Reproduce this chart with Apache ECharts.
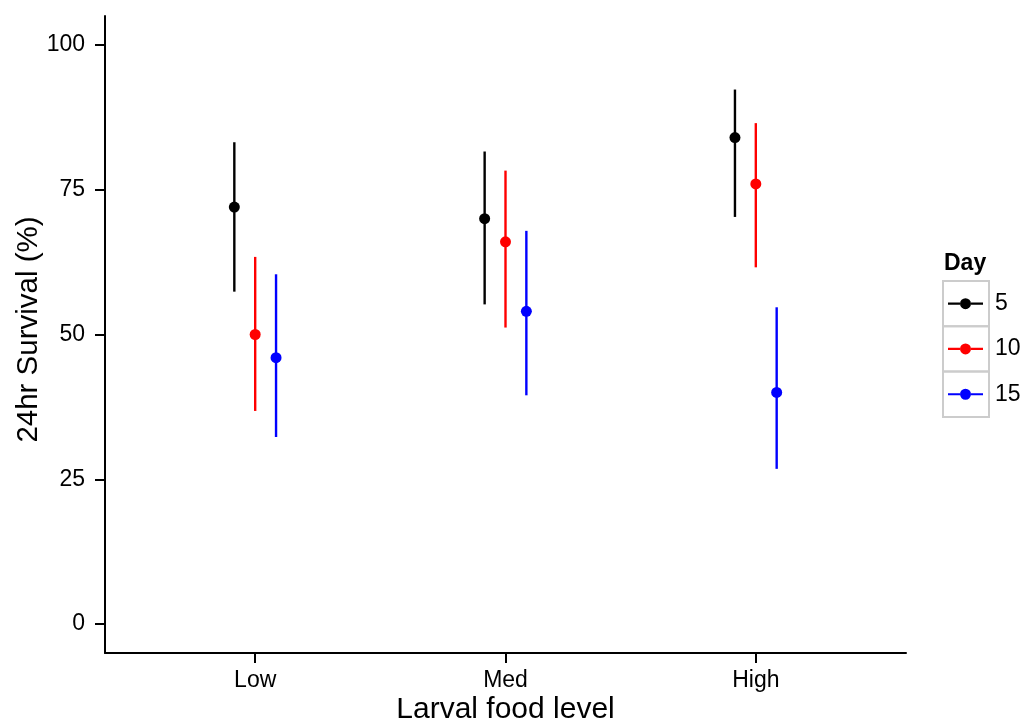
<!DOCTYPE html>
<html>
<head>
<meta charset="utf-8">
<script src="https://cdn.jsdelivr.net/npm/echarts@6/dist/echarts.min.js"></script>
<style>
  html, body { margin: 0; padding: 0; background: #ffffff; }
  #chart { width: 1023px; height: 720px; }
</style>
</head>
<body>
<div id="chart"></div>
<script>
// Larval food level categories and the Day groups
const categories = ['Low', 'Med', 'High'];
const days = ['5', '10', '15'];
const dayColors = ['#000000', '#ff0000', '#0000ff'];

// 24hr survival (%) with lower / upper interval limits, per day
const survival5 = [72, 70, 84];
const lower5 = [57.4, 55.2, 70.3];
const upper5 = [83.2, 81.6, 92.3];

const survival10 = [50, 66, 76];
const lower10 = [36.8, 51.2, 61.6];
const upper10 = [63.4, 78.3, 86.5];

const survival15 = [46, 54, 40];
const lower15 = [32.3, 39.5, 26.8];
const upper15 = [60.4, 67.9, 54.7];

const yTicks = [0, 25, 50, 75, 100];

const groups = [
  { mean: survival5, lo: lower5, hi: upper5 },
  { mean: survival10, lo: lower10, hi: upper10 },
  { mean: survival15, lo: lower15, hi: upper15 }
];

// dodge width 0.25 split across three groups
const dodge = 0.25 / 3;
const font = '"Liberation Sans", Arial, Helvetica, sans-serif';

// legend key: horizontal line through a dot
const keyIcon = 'path://M0,4.4h12v2.2h-12z M23,4.4h12v2.2h-12z M12,5.5a5.5,5.5 0 1,1 11,0a5.5,5.5 0 1,1 -11,0z';

const series = days.map((d, k) => ({
  name: d,
  type: 'custom',
  color: dayColors[k],
  data: categories.map((c, i) => [i + 1, groups[k].mean[i], groups[k].lo[i], groups[k].hi[i]]),
  encode: { x: 0, y: [1, 2, 3] },
  renderItem: function (params, api) {
    const x = api.value(0) + (k - 1) * dodge;
    const c = api.coord([x, api.value(1)]);
    const lo = api.coord([x, api.value(2)]);
    const hi = api.coord([x, api.value(3)]);
    return {
      type: 'group',
      children: [
        { type: 'line', shape: { x1: lo[0], y1: lo[1], x2: hi[0], y2: hi[1] },
          style: { stroke: dayColors[k], lineWidth: 2.4 } },
        { type: 'circle', shape: { cx: c[0], cy: c[1], r: 5.5 },
          style: { fill: dayColors[k] } }
      ]
    };
  }
}));

const chart = echarts.init(document.getElementById('chart'), null, { renderer: 'canvas' });
chart.setOption({
  animation: false,
  backgroundColor: '#ffffff',
  grid: { left: 105, right: 117, top: 16, bottom: 67, containLabel: false, outerBoundsMode: 'none' },
  xAxis: {
    type: 'value',
    min: 0.4,
    max: 3.6,
    name: 'Larval food level',
    nameLocation: 'middle',
    nameGap: 42,
    nameMoveOverlap: false,
    nameTextStyle: { fontFamily: font, fontSize: 30, color: '#000' },
    axisLine: { show: true, onZero: false, lineStyle: { color: '#000', width: 2 } },
    axisTick: { show: true, length: 10, customValues: [1, 2, 3], lineStyle: { color: '#000', width: 2 } },
    axisLabel: {
      customValues: [1, 2, 3],
      formatter: v => categories[Math.round(v) - 1],
      fontFamily: font, fontSize: 23, color: '#000', margin: 16
    },
    splitLine: { show: false }
  },
  yAxis: {
    type: 'value',
    min: -5,
    max: 105,
    name: '24hr Survival (%)',
    nameLocation: 'middle',
    nameGap: 61,
    nameMoveOverlap: false,
    nameTextStyle: { fontFamily: font, fontSize: 29.5, color: '#000', padding: [0, 0, 0, 10] },
    axisLine: { show: true, onZero: false, lineStyle: { color: '#000', width: 2 } },
    axisTick: { show: true, length: 10, customValues: yTicks, lineStyle: { color: '#000', width: 2 } },
    axisLabel: {
      customValues: yTicks,
      fontFamily: font, fontSize: 23, color: '#000', margin: 20
    },
    splitLine: { show: false }
  },
  legend: {
    orient: 'vertical',
    left: 948,
    top: 281,
    padding: 0,
    itemGap: 0,
    itemWidth: 35,
    itemHeight: 11,
    selectedMode: false,
    data: days.map(d => ({ name: d, icon: keyIcon })),
    textStyle: { fontFamily: font, fontSize: 23, color: '#000', lineHeight: 45.3, padding: [0, 0, 0, 7] }
  },
  graphic: [
    { type: 'text', left: 944, top: 252,
      style: { text: 'Day', font: 'bold 23px ' + font, fill: '#000' } },
    { type: 'rect', shape: { x: 943, y: 281, width: 46, height: 45.3 },
      style: { fill: 'none', stroke: '#cccccc', lineWidth: 2 }, z: -1 },
    { type: 'rect', shape: { x: 943, y: 326.3, width: 46, height: 45.3 },
      style: { fill: 'none', stroke: '#cccccc', lineWidth: 2 }, z: -1 },
    { type: 'rect', shape: { x: 943, y: 371.6, width: 46, height: 45.3 },
      style: { fill: 'none', stroke: '#cccccc', lineWidth: 2 }, z: -1 }
  ],
  series: series
});
</script>
</body>
</html>
